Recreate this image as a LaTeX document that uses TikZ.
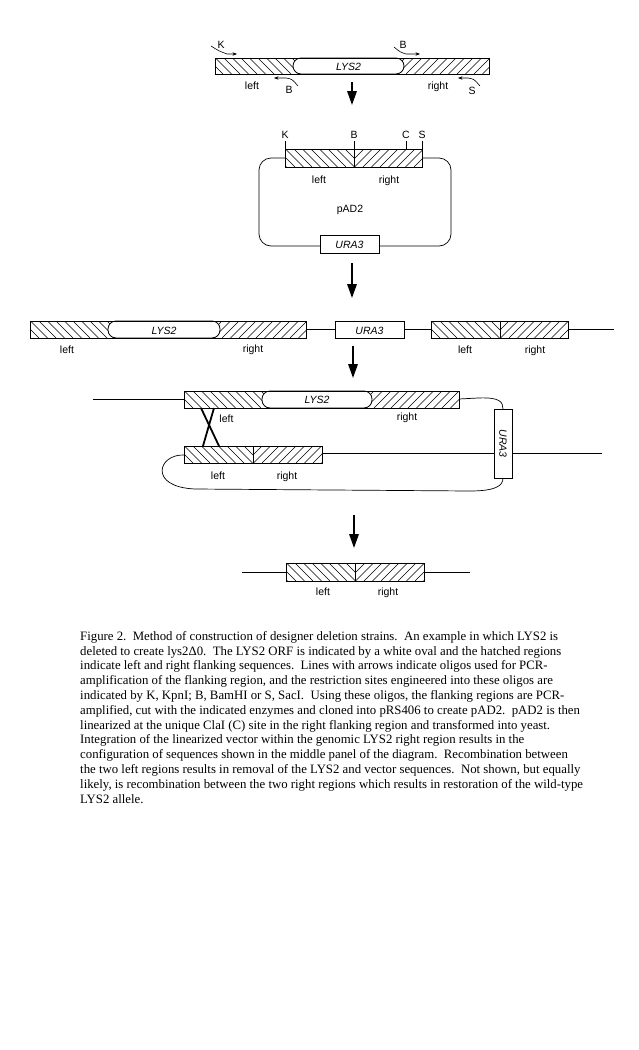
\documentclass[tikz,border=0pt]{standalone}
\usepackage{fontspec}
\setmainfont{Liberation Serif}
\newfontfamily\labfont{Liberation Sans}
\usetikzlibrary{arrows.meta}
\newcommand{\hatchL}[4]{%
  \begin{scope}
    \clip (#1,#2) rectangle (#3,#4);
    \pgfmathsetmacro\hA{#1-25}\pgfmathsetmacro\hB{#1-25+8.5}
    \foreach \i in {\hA,\hB,...,#3} \draw[hl] (\i,#2) -- ++(#4-#2,#4-#2);
  \end{scope}}
\newcommand{\hatchR}[4]{%
  \begin{scope}
    \clip (#1,#2) rectangle (#3,#4);
    \pgfmathsetmacro\hA{#1-25}\pgfmathsetmacro\hB{#1-25+8.5}
    \foreach \i in {\hA,\hB,...,#3} \draw[hl] (\i,#4) -- ++(#4-#2,#2-#4);
  \end{scope}}
\begin{document}
\begin{tikzpicture}[x=1pt,y=-1pt,
  box/.style={draw=black,line width=0.8pt},
  hl/.style={line width=0.55pt},
  lab/.style={font={\labfont\fontsize{10.5}{12}\selectfont},inner sep=0pt,anchor=base},
  ilab/.style={font={\labfont\itshape\fontsize{10.5}{12}\selectfont},inner sep=0pt,anchor=base},
  dna/.style={line width=0.7pt},
  bigarrow/.style={line width=1.8pt,-{Triangle[width=9.5pt,length=14pt]}},
  primer/.style={line width=0.6pt,-{Stealth[length=4.5pt,width=3.4pt]}},
  cross/.style={line width=1.8pt},
  oval/.style={draw,fill=white,rounded corners=8pt,line width=0.8pt},
  tick/.style={line width=0.7pt},
]
\fill[white] (0,0) rectangle (638,1050);
\useasboundingbox (0,0) rectangle (638,1050);

% ---------- top: genomic LYS2 with primers ----------
\hatchL{215}{58}{300}{74}
\hatchR{397}{58}{489}{74}
\draw[oval] (293,58) rectangle (404,74);
\draw[box] (215,58) rectangle (489,74);
\node[ilab] (lys1) at (348.5,70) {LYS2};
\node[lab] (l1) at (252,89) {left};
\node[lab] (r1) at (438,89) {right};
\draw[primer] (211,46) .. controls (219,51) .. (227,54) -- (237,54);
\node[lab] (k1) at (221,48) {K};
\draw[primer] (394,47) .. controls (400,52) .. (406,54) -- (420,54);
\node[lab] (b1) at (403,48) {B};
\draw[primer] (298,86) .. controls (292,79) .. (286,78) -- (274,78);
\node[lab] (b2) at (289,93) {B};
\draw[primer] (480,86) .. controls (474,79) .. (468,78) -- (458,78);
\node[lab] (s1) at (472,94) {S};

\coordinate (a1s) at (352,82); \coordinate (a1e) at (352,105);
\draw[bigarrow] (a1s) -- (a1e);

% ---------- plasmid pAD2 ----------
\draw[dna,rounded corners=12pt] (259,158) rectangle (451,246);
\fill[white] (285,149) rectangle (422,167);
\hatchL{285}{149}{354}{167}
\hatchR{354}{149}{422}{167}
\draw[box] (285,149) rectangle (422,167);
\draw[tick] (285,141) -- (285,149);
\draw[tick] (354,141) -- (354,167);
\draw[tick] (406,141) -- (406,149);
\draw[tick] (422,141) -- (422,149);
\node[lab] (k2) at (285,138.5) {K};
\node[lab] (b3) at (354,138.5) {B};
\node[lab] (c2) at (406,138.5) {C};
\node[lab] (s2) at (422,138.5) {S};
\node[lab] (l2) at (319,183) {left};
\node[lab] (r2) at (389,183) {right};
\node[lab] (pad) at (350,212) {pAD2};
\draw[box,fill=white] (320,235) rectangle (379,253);
\node[ilab] (u2) at (349.5,248.5) {URA3};

\coordinate (a2s) at (352,263); \coordinate (a2e) at (352,298);
\draw[bigarrow] (a2s) -- (a2e);

% ---------- middle row ----------
\hatchL{30}{321}{115}{338}
\hatchR{213}{321}{306}{338}
\draw[oval] (108,321) rectangle (220,338);
\draw[box] (30,321) rectangle (306,338);
\node[ilab] (lys3) at (164,334) {LYS2};
\node[lab] (l3) at (67,353) {left};
\node[lab] (r3) at (253,352) {right};
\draw[dna] (306,329.5) -- (335,329.5);
\draw[box,fill=white] (335,321) rectangle (404,338);
\node[ilab] (u3) at (369.5,334) {URA3};
\draw[dna] (404,329.5) -- (431,329.5);
\hatchL{431}{321}{500}{338}
\hatchR{500}{321}{568}{338}
\draw[box] (431,321) rectangle (568,338);
\draw[tick] (500,321) -- (500,338);
\draw[dna] (568,329.5) -- (614,329.5);
\node[lab] (l4) at (465,353) {left};
\node[lab] (r4) at (535,353) {right};

\coordinate (a3s) at (353,346); \coordinate (a3e) at (353,378);
\draw[bigarrow] (a3s) -- (a3e);

% ---------- recombination panel ----------
\draw[dna] (93,399.5) -- (184,399.5);
\hatchL{184}{391}{269}{408}
\hatchR{365}{391}{459}{408}
\draw[oval] (262,391) rectangle (372,408);
\draw[box] (184,391) rectangle (459,408);
\node[ilab] (lys4) at (317,403) {LYS2};
\node[lab] (l5) at (226.5,422) {left};
\node[lab] (r5) at (407,420) {right};
\draw[dna] (459,399) -- (478,398) .. controls (500,397) and (503,402) .. (503,409);
\draw[box,fill=white] (494,409) rectangle (512,478);
\node[ilab,rotate=-90,anchor=center] (u4) at (503,443.5) {URA3};
\hatchL{184}{446}{253}{463}
\hatchR{253}{446}{322}{463}
\draw[box] (184,446) rectangle (322,463);
\draw[tick] (253,446) -- (253,463);
\draw[dna] (322,453) -- (494,453);
\draw[dna] (512,453) -- (602,453);
\draw[dna] (184,455) .. controls (158,454) and (148,487) .. (195,489)
  -- (470,491) .. controls (495,491) and (503,486) .. (503,478);
\draw[cross] (201,408) -- (219,446);
\draw[cross] (214,408) -- (203,446);
\node[lab] (l6) at (218,479) {left};
\node[lab] (r6) at (287,479) {right};

\coordinate (a4s) at (354,515); \coordinate (a4e) at (354,548);
\draw[bigarrow] (a4s) -- (a4e);

% ---------- result ----------
\draw[dna] (242,572) -- (286,572);
\hatchL{286}{563}{355}{581}
\hatchR{355}{563}{424}{581}
\draw[box] (286,563) rectangle (424,581);
\draw[tick] (355,563) -- (355,581);
\draw[dna] (424,572) -- (470,572);
\node[lab] (l7) at (323,595) {left};
\node[lab] (r7) at (388,595) {right};

% ---------- caption ----------
\node[anchor=north west,inner sep=0pt,align=left,
  font={\fontsize{12.8}{14.8}\selectfont}] (cap) at (80,631) {%
Figure 2.\ \ Method of construction of designer deletion strains.\ \ An example in which LYS2 is\\
deleted to create lys2Δ0.\ \ The LYS2 ORF is indicated by a white oval and the hatched regions\\
indicate left and right flanking sequences.\ \ Lines with arrows indicate oligos used for PCR-\\
amplification of the flanking region, and the restriction sites engineered into these oligos are\\
indicated by K, KpnI; B, BamHI or S, SacI.\ \ Using these oligos, the flanking regions are PCR-\\
amplified, cut with the indicated enzymes and cloned into pRS406 to create pAD2.\ \ pAD2 is then\\
linearized at the unique ClaI (C) site in the right flanking region and transformed into yeast.\\
Integration of the linearized vector within the genomic LYS2 right region results in the\\
configuration of sequences shown in the middle panel of the diagram.\ \ Recombination between\\
the two left regions results in removal of the LYS2 and vector sequences.\ \ Not shown, but equally\\
likely, is recombination between the two right regions which results in restoration of the wild-type\\
LYS2 allele.};
\end{tikzpicture}
\end{document}
